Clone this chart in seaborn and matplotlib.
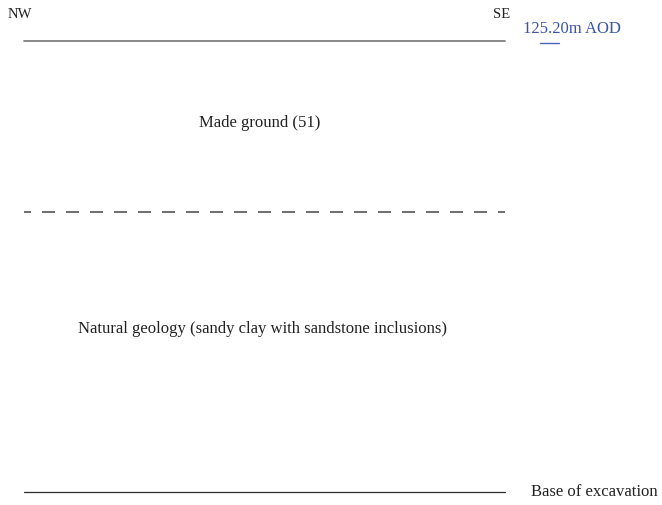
import matplotlib.pyplot as plt
import pandas as pd
import seaborn as sns

# section profile: horizontal chainage (px along drawing) and level of each boundary
chainage = [24, 505]
ground_surface = [41, 41]
made_ground_base = [212, 212]
excavation_base = [492, 492]

layer_labels = ["Made ground (51)", "Natural geology (sandy clay with sandstone inclusions)"]
layer_label_pos = [(260, 123), (262, 329)]

sns.set_theme(style="white")
plt.rcParams['font.family'] = ['Liberation Serif', 'DejaVu Serif']

fig = plt.figure(figsize=(6.62, 5.05), dpi=100)
ax = fig.add_axes([0, 0, 1, 1])

df = pd.DataFrame({'x': chainage, 'top': ground_surface,
                   'mid': made_ground_base, 'base': excavation_base})

sns.lineplot(data=df, x='x', y='top', ax=ax, color='#7f7f7f', linewidth=1.3)
sns.lineplot(data=df, x='x', y='mid', ax=ax, color='#555555', linewidth=1.2)
# dash 13px, gap 11px, pattern starts part-way into a dash
ax.lines[-1].set_linestyle((3.6, (7.8, 6.6)))
ax.lines[-1].set_dash_capstyle('butt')
sns.lineplot(data=df, x='x', y='base', ax=ax, color='#2b2b2b', linewidth=0.9)

ax.set_xlim(0, 662)
ax.set_ylim(505, 0)
ax.axis('off')

# orientation labels
ax.text(8, 14, "NW", fontsize=10.5, color='#222222', va='center', ha='left')
ax.text(493, 14, "SE", fontsize=10.5, color='#222222', va='center', ha='left')

# level annotation
ax.text(523, 29, "125.20m AOD", fontsize=12, color='#3a55a8', va='center', ha='left')
ax.plot([540, 559], [43, 43], color='#4a64b8', linewidth=1.0)

for lbl, (x, y) in zip(layer_labels, layer_label_pos):
    ax.text(x, y, lbl, fontsize=12, color='#222222', ha='center', va='center')

ax.text(531, 492, "Base of excavation", fontsize=12, color='#222222', va='center', ha='left')

fig.savefig('out.png', dpi=100)
